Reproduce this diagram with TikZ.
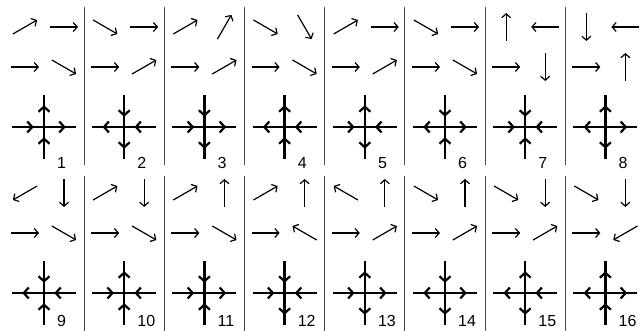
\documentclass[tikz,border=0pt]{standalone}
\usepackage{fontspec}
\setmainfont{Liberation Sans}
\usetikzlibrary{arrows.meta,calc,decorations.markings}

\tikzset{
  vec/.style={line width=1.2pt, -{Straight Barb[length=4pt,width=9pt]}},
  arm/.style={line width=2.5pt},
  inw/.style={arm, postaction={decorate}, decoration={markings,
      mark=at position 0.68 with {\arrow{Straight Barb[length=5pt,width=11pt,line width=2.2pt]}}}},
  outw/.style={arm, postaction={decorate}, decoration={markings,
      mark=at position 0.32 with {\arrowreversed{Straight Barb[length=5pt,width=11pt,line width=2.2pt]}}}},
  sep/.style={line width=0.9pt, black!70},
  num/.style={anchor=base west, inner sep=0pt, font=\fontsize{16}{16}\selectfont}
}

\begin{document}
\begin{tikzpicture}[x=1pt, y=1pt]
    \useasboundingbox (0,0) rectangle (643,331);

    \foreach \i in {0,...,6} {
        \draw[sep] (84+80.2*\i,166) -- (84+80.2*\i,324);
        \draw[sep] (84+80.2*\i,0) -- (84+80.2*\i,155);
    }

    \foreach \n/\col/\row/\pa/\pb/\pc/\pd/\L/\R/\T/\B in {
        1/0/0/30/0/0/-30/inw/outw/outw/inw,
        2/1/0/-30/0/0/30/outw/inw/inw/outw,
        3/2/0/30/60/0/30/inw/outw/inw/outw,
        4/3/0/-30/-60/0/-30/outw/inw/outw/inw,
        5/4/0/30/0/0/30/inw/inw/outw/outw,
        6/5/0/-30/0/0/-30/outw/outw/inw/inw,
        7/6/0/90/180/0/-90/inw/inw/inw/inw,
        8/7/0/-90/180/0/90/outw/outw/outw/outw,
        9/0/1/210/-90/0/-30/outw/inw/inw/inw,
        10/1/1/30/-90/0/-30/inw/inw/outw/inw,
        11/2/1/30/90/0/-30/inw/outw/inw/inw,
        12/3/1/30/90/0/150/inw/inw/inw/outw,
        13/4/1/150/90/0/30/inw/outw/outw/outw,
        14/5/1/-30/90/0/30/outw/outw/inw/outw,
        15/6/1/-30/-90/0/30/outw/inw/outw/outw,
        16/7/1/-30/-90/0/210/outw/outw/outw/inw} {
        \pgfmathsetmacro\cx{44+80.2*\col}
        \pgfmathsetmacro\cy{204-166*\row}
        \pgfmathsetmacro\ny{162.5-158.5*\row}
        \coordinate (c\n) at (\cx,\cy);
        \coordinate (a\n) at (\cx-19,\cy+100);
        \coordinate (b\n) at (\cx+20,\cy+100);
        \coordinate (e\n) at (\cx-19,\cy+60);
        \coordinate (f\n) at (\cx+20,\cy+60);

        \draw[vec] ($(a\n)+(\pa+180:14)$) -- ($(a\n)+(\pa:14)$);
        \draw[vec] ($(b\n)+(\pb+180:14)$) -- ($(b\n)+(\pb:14)$);
        \draw[vec] ($(e\n)+(\pc+180:14)$) -- ($(e\n)+(\pc:14)$);
        \draw[vec] ($(f\n)+(\pd+180:14)$) -- ($(f\n)+(\pd:14)$);

        \draw[\L] ($(c\n)+(-32,0)$) -- (c\n);
        \draw[\R] ($(c\n)+(32,0)$) -- (c\n);
        \draw[\T] ($(c\n)+(0,32)$) -- (c\n);
        \draw[\B] ($(c\n)+(0,-32)$) -- (c\n);

        \node[num] (n\n) at (\cx+13,\ny) {\n};
    }
\end{tikzpicture}
\end{document}
